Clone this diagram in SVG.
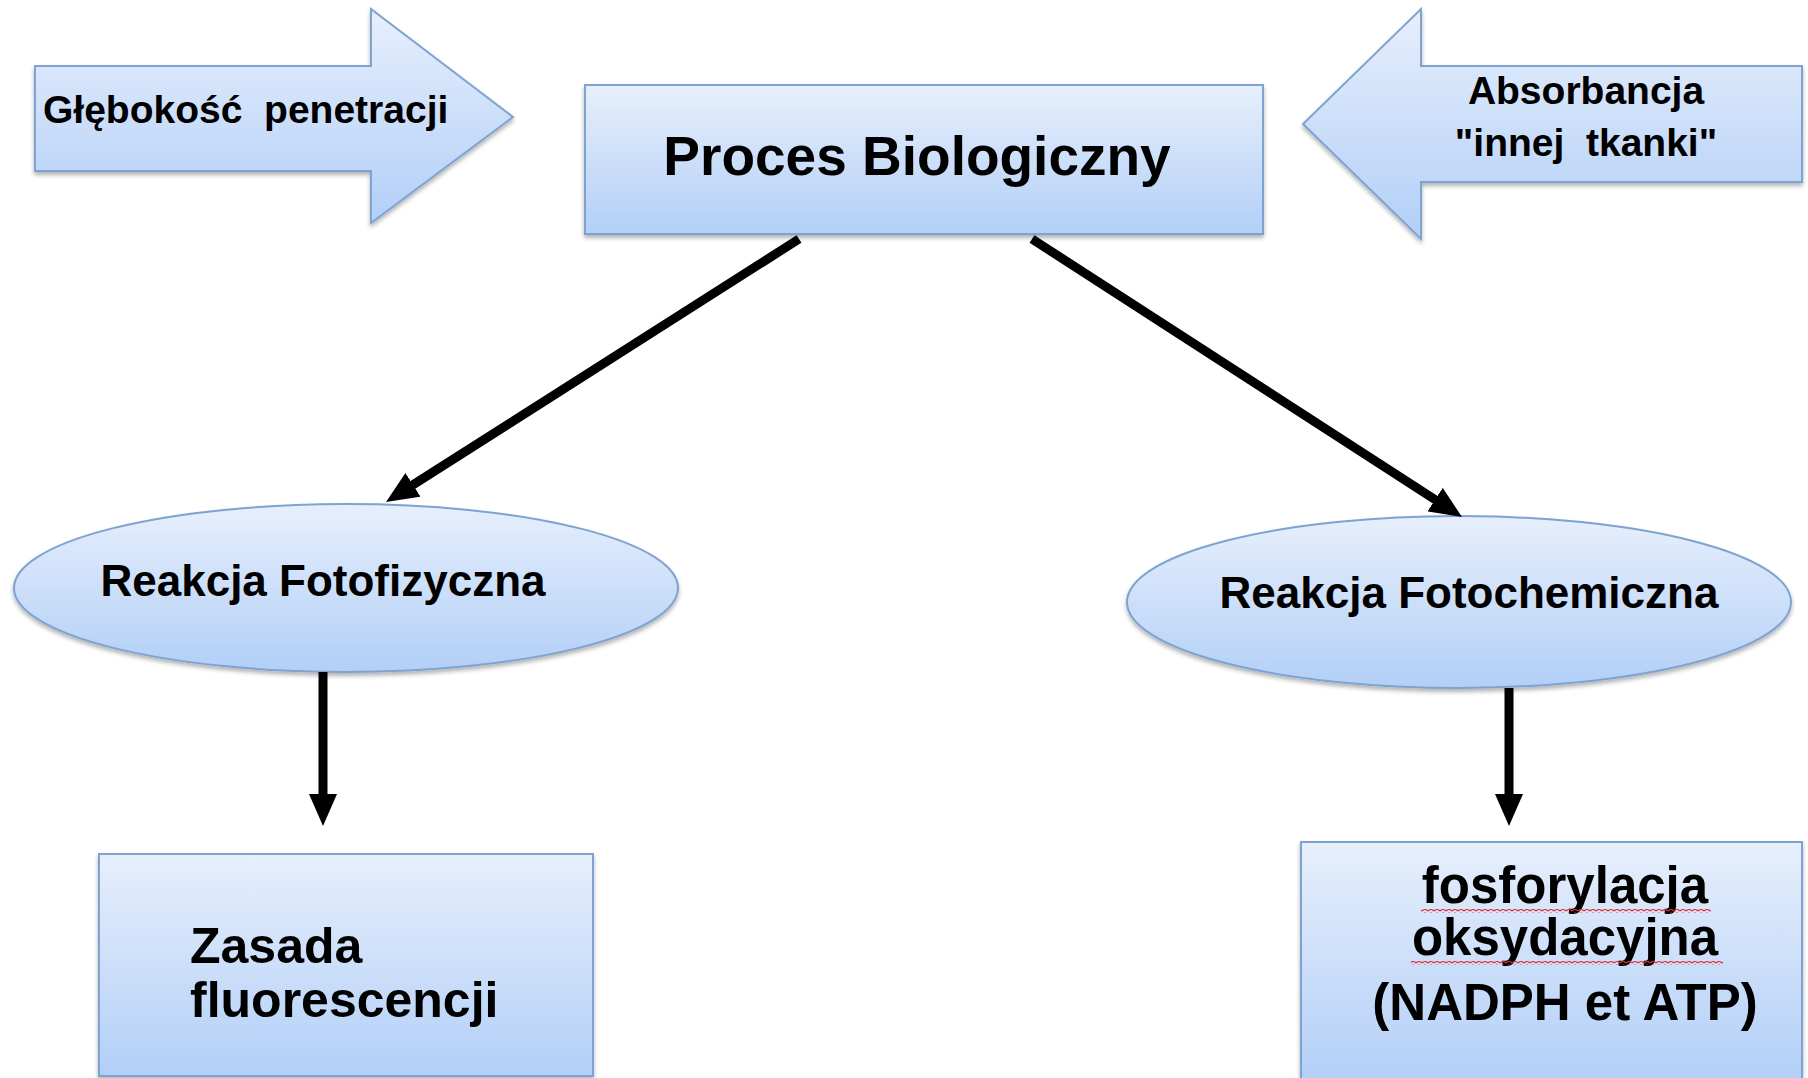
<svg xmlns="http://www.w3.org/2000/svg" width="1808" height="1078" viewBox="0 0 1808 1078">
<style>
.shape{fill:url(#blue);stroke:#7ea3d1;stroke-width:2;filter:url(#sh)}
.t{font-family:"Liberation Sans",Arial,sans-serif;font-weight:bold;fill:#000}
.c{stroke:#000;stroke-width:9;fill:none;marker-end:url(#ah)}
</style>
<defs>
<linearGradient id="blue" x1="0" y1="0" x2="0" y2="1">
<stop offset="0" stop-color="#e7effc"/>
<stop offset="1" stop-color="#b2cff7"/>
</linearGradient>
<filter id="sh" x="-5%" y="-5%" width="110%" height="120%">
<feDropShadow dx="0" dy="3" stdDeviation="2" flood-color="#000" flood-opacity="0.3"/>
</filter>
<marker id="ah" markerUnits="userSpaceOnUse" viewBox="0 0 32 28" markerWidth="32" markerHeight="28" refX="2" refY="14" orient="auto">
<path d="M0,0 L32,14 L0,28 z" fill="#000"/>
</marker>
<pattern id="sq" width="6" height="4" patternUnits="userSpaceOnUse">
<path d="M0,3 L3,1 L6,3" fill="none" stroke="#e03030" stroke-width="1.2"/>
</pattern>
</defs>

<g id="arrow-left">
<polygon class="shape" points="35,66 371,66 371,9 513,117 371,223 371,171 35,171"/>
<text class="t" x="43" y="123" font-size="39">Głębokość&#160; penetracji</text>
</g>

<g id="proces">
<rect class="shape" x="585" y="85" width="678" height="149"/>
<text class="t" x="917" y="175" font-size="55" text-anchor="middle">Proces Biologiczny</text>
</g>

<g id="arrow-right">
<polygon class="shape" points="1802,66 1421,66 1421,9 1303,124 1421,239 1421,182 1802,182"/>
<text class="t" font-size="39" text-anchor="middle"><tspan x="1586" y="104">Absorbancja</tspan><tspan x="1586" y="156">"innej&#160; tkanki"</tspan></text>
</g>

<g id="fotofizyczna">
<ellipse class="shape" cx="346" cy="588" rx="332" ry="84"/>
<text class="t" x="323" y="596" font-size="44" text-anchor="middle">Reakcja Fotofizyczna</text>
</g>

<g id="fotochemiczna">
<ellipse class="shape" cx="1459" cy="602" rx="332" ry="86"/>
<text class="t" x="1469" y="608" font-size="44" text-anchor="middle">Reakcja Fotochemiczna</text>
</g>

<g id="zasada">
<rect class="shape" x="99" y="854" width="494" height="222"/>
<text class="t" font-size="50"><tspan x="190" y="963">Zasada</tspan><tspan x="190" y="1017">fluorescencji</tspan></text>
</g>

<g id="fosforylacja">
<rect class="shape" x="1301" y="842" width="501" height="240"/>
<text class="t" font-size="51" text-anchor="middle"><tspan x="1565" y="903">fosforylacja</tspan><tspan x="1565" y="955">oksydacyjna</tspan><tspan x="1565" y="1020">(NADPH et ATP)</tspan></text>
<rect x="1421" y="909" width="290" height="4" fill="url(#sq)"/>
<rect x="1411" y="961" width="312" height="4" fill="url(#sq)"/>
</g>

<g id="connectors">
<path class="c" d="M799,239 L411.3,485.9"/>
<path class="c" d="M1032,239 L1436.8,500.7"/>
<path class="c" d="M323,672 L323,796"/>
<path class="c" d="M1509,688 L1509,796"/>
</g>
</svg>
